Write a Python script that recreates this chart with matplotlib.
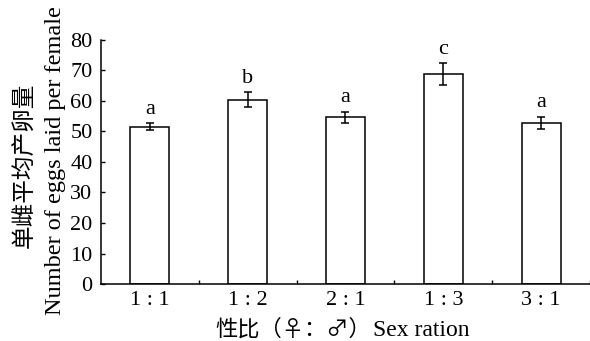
import numpy as np
import matplotlib
matplotlib.use("Agg")
import matplotlib.pyplot as plt

plt.rcParams['font.family'] = ['Liberation Serif', 'Noto Sans CJK SC', 'DejaVu Sans']

# data
ratios = ["1 : 1", "1 : 2", "2 : 1", "1 : 3", "3 : 1"]
eggs = [51.6, 60.4, 54.6, 68.7, 52.8]
err = [1.2, 2.4, 1.9, 3.6, 2.1]
letters = ["a", "b", "a", "c", "a"]

fig = plt.figure(figsize=(5.9, 3.41), dpi=100)
ax = fig.add_axes([0.171, 0.167, 0.829, 0.716])

x = np.arange(len(ratios))
ax.bar(x, eggs, width=0.4, color="white", edgecolor="black", linewidth=1.1,
       yerr=err, error_kw=dict(ecolor="black", elinewidth=1.1, capsize=3, capthick=1.1))

for xi, v, e, s in zip(x, eggs, err, letters):
    ax.text(xi, v + e + 1.4, s, ha="center", va="bottom", fontsize=16)

ax.set_xlim(-0.5, 4.5)
ax.set_ylim(0, 80)
ax.set_yticks(np.arange(0, 81, 10))
ax.set_xticks(x)
ax.set_xticklabels(ratios)
ax.set_xticks(np.arange(0.5, 5, 1), minor=True)
ax.tick_params(axis="x", which="major", length=0, labelsize=16, pad=5)
ax.tick_params(axis="x", which="minor", direction="in", length=3, width=1)
ax.tick_params(axis="y", direction="in", length=3, width=1, labelsize=16, pad=6)

for side in ["top", "right"]:
    ax.spines[side].set_visible(False)
for side in ["left", "bottom"]:
    ax.spines[side].set_linewidth(1.1)

# axis titles: Chinese part in CJK font, English part in serif
fig.text(0.629, 0.016, "性比（♀：♂）", fontsize=16, ha="right", va="baseline",
         family=["Noto Sans CJK SC", "DejaVu Sans"])
fig.text(0.632, 0.016, "Sex ration", fontsize=17, ha="left", va="baseline",
         family=["Liberation Serif"])
fig.text(25 / 590, 1 - 165 / 341, "单雌平均产卵量", fontsize=17, rotation=90,
         ha="center", va="center", family=["Noto Sans CJK SC"])
fig.text(55 / 590, 1 - 161 / 341, "Number of eggs laid per female", fontsize=17.5,
         rotation=90, ha="center", va="center", family=["Liberation Serif"])

fig.savefig("out.png", dpi=100)
